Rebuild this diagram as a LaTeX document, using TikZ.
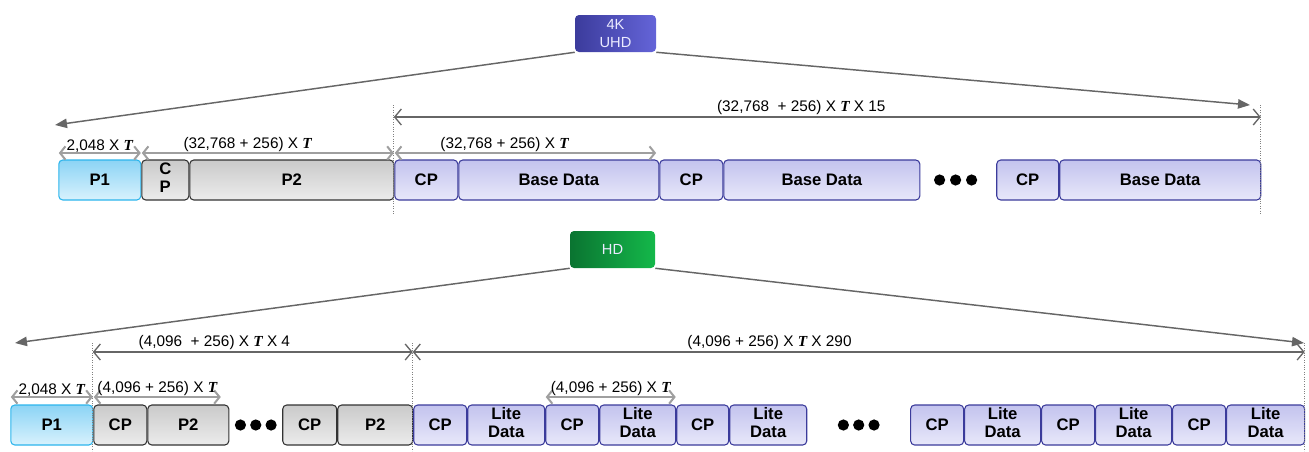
\documentclass[tikz,border=0pt]{standalone}
\usepackage{fontspec}
\setmainfont{Liberation Sans}
\newfontfamily\serifT{Liberation Serif}
\usepackage{xcolor}
\usepackage{tikz}
\usetikzlibrary{matrix,arrows.meta}

\definecolor{pOneTop}{HTML}{8CD4F5}
\definecolor{pOneBot}{HTML}{D8F2FD}
\definecolor{pOneLine}{HTML}{2CB5EC}
\definecolor{pTwoTop}{HTML}{CACACA}
\definecolor{pTwoBot}{HTML}{ECECEC}
\definecolor{pTwoLine}{HTML}{333333}
\definecolor{dataTop}{HTML}{C3C3EE}
\definecolor{dataBot}{HTML}{E8E8FA}
\definecolor{dataLine}{HTML}{3B3B9B}
\definecolor{uhdLeft}{HTML}{3C3C9C}
\definecolor{uhdRight}{HTML}{6464D8}
\definecolor{hdLeft}{HTML}{0A7431}
\definecolor{hdRight}{HTML}{14B84A}
\definecolor{arrowGray}{HTML}{666666}

\newcommand{\Tsym}{{\serifT\bfseries\itshape T}}
\newcommand{\twoline}[2]{\begin{tabular}{@{}c@{}}#1\\[1pt]#2\end{tabular}}

\tikzset{
 frame/.style={rounded corners=3pt, minimum height=30pt, inner sep=0pt, outer sep=0pt, line width=0.8pt, font=\fontsize{12.5}{13}\selectfont\bfseries},
 pone/.style={draw=pOneLine, top color=pOneTop, bottom color=pOneBot, minimum width=#1},
 ptwo/.style={draw=pTwoLine, top color=pTwoTop, bottom color=pTwoBot, minimum width=#1},
 pdata/.style={draw=dataLine, top color=dataTop, bottom color=dataBot, minimum width=#1},
 gapcell/.style={minimum width=#1},
 mode/.style={rounded corners=3pt, minimum width=#1, minimum height=27.75pt, inner sep=0pt, align=center, text=white!92!blue, font=\fontsize{11}{13}\selectfont},
 bigarrow/.style={draw=arrowGray, line width=1.1pt, -{Triangle[length=9pt,width=7pt]}},
 dimspan/.style={draw=arrowGray, line width=1pt, {Straight Barb[length=5pt,width=12pt]}-{Straight Barb[length=5pt,width=12pt]}},
 subspan/.style={draw=gray!75, line width=1.5pt, {Straight Barb[length=4pt,width=10pt]}-{Straight Barb[length=4pt,width=10pt]}},
 bound/.style={draw=gray, densely dotted, line width=0.8pt},
 lbl/.style={font=\fontsize{11.5}{12}\selectfont, inner sep=1pt}
}

\begin{document}
\begin{tikzpicture}[x=0.75pt, y=-0.75pt]
\useasboundingbox (0,0) rectangle (1309,451);

\node[mode=60.75pt, left color=uhdLeft, right color=uhdRight] (uhd) at (615.5,33.5) {4K\\UHD};
\matrix (A) [matrix of nodes, nodes={frame, anchor=center}, column sep=-0.05pt, inner sep=0pt, matrix anchor=west, nodes in empty cells] at (58,180) {
 |[pone=61.5pt]| P1 & |[ptwo=35.25pt]| \twoline{C}{P} & |[ptwo=153pt]| P2 & |[pdata=47.25pt]| CP & |[pdata=150pt]| Base Data & |[pdata=47.25pt]| CP & |[pdata=147pt]| Base Data & |[gapcell=57pt]| & |[pdata=46.5pt]| CP & |[pdata=150.75pt]| Base Data \\
};
\foreach \k in {-1,0,1} \fill ([xshift=\k*12pt-2pt]A-1-8.center) circle (4.2pt);

\coordinate (uhdL) at (55,125);
\coordinate (uhdR) at (1250,105);
\coordinate (lvlA) at (0,117);
\draw[bigarrow] (uhd.south west) -- (uhdL);
\draw[bigarrow] (uhd.south east) -- (uhdR);
\draw[bound] (A-1-3.east |- uhdR) -- ++(0,110);
\draw[bound] (A-1-10.east |- uhdR) -- ++(0,110);
\draw[dimspan] (A-1-3.east |- lvlA) -- node[lbl, above, pos=0.47] {(32,768\ \ + 256) X \Tsym{} X 15} (A-1-10.east |- lvlA);
\draw[subspan] ([yshift=5.25pt]A-1-1.north west) -- node[lbl, above=-1pt] {2,048 X \Tsym} ([yshift=5.25pt]A-1-1.north east);
\draw[subspan] ([yshift=5.25pt]A-1-2.north west) -- node[lbl, above=-1pt, pos=0.42] {(32,768 + 256) X \Tsym} ([yshift=5.25pt]A-1-3.north east);
\draw[subspan] ([yshift=5.25pt]A-1-4.north west) -- node[lbl, above=-1pt, pos=0.42] {(32,768 + 256) X \Tsym} ([yshift=5.25pt,xshift=-2pt]A-1-5.north east);

\node[mode=63.75pt, left color=hdLeft, right color=hdRight] (hd) at (612.5,249.5) {HD};
\matrix (B) [matrix of nodes, nodes={frame, anchor=center}, column sep=-0.05pt, inner sep=0pt, matrix anchor=west, nodes in empty cells] at (10,425) {
 |[pone=61.5pt]| P1 & |[ptwo=39.75pt]| CP & |[ptwo=60.75pt]| P2 & |[gapcell=39.75pt]| & |[ptwo=40.5pt]| CP & |[ptwo=56.25pt]| P2 & |[pdata=39.75pt]| CP & |[pdata=57.75pt]| \twoline{Lite}{Data} & |[pdata=39.75pt]| CP & |[pdata=57pt]| \twoline{Lite}{Data} & |[pdata=39pt]| CP & |[pdata=57.75pt]| \twoline{Lite}{Data} & |[gapcell=77.25pt]| & |[pdata=39.75pt]| CP & |[pdata=57pt]| \twoline{Lite}{Data} & |[pdata=39.75pt]| CP & |[pdata=57pt]| \twoline{Lite}{Data} & |[pdata=39.75pt]| CP & |[pdata=58.5pt]| \twoline{Lite}{Data} \\
};
\foreach \k in {-1,0,1} \fill ([xshift=\k*11.5pt]B-1-4.center) circle (4.2pt);
\foreach \k in {-1,0,1} \fill ([xshift=\k*11.5pt]B-1-13.center) circle (4.2pt);

\coordinate (hdL) at (15,343);
\coordinate (hdR) at (1304,343);
\coordinate (lvlB) at (0,352);
\draw[bigarrow] (hd.south west) -- (hdL);
\draw[bigarrow] (hd.south east) -- (hdR);
\draw[bound] (B-1-1.east |- hdR) -- ++(0,108);
\draw[bound] (B-1-6.east |- hdR) -- ++(0,108);
\draw[bound] (B-1-19.east |- hdR) -- ++(0,108);
\draw[dimspan] (B-1-1.east |- lvlB) -- node[lbl, above, pos=0.38] {(4,096\ \ + 256) X \Tsym{} X 4} (B-1-6.east |- lvlB);
\draw[dimspan] (B-1-6.east |- lvlB) -- node[lbl, above, pos=0.4] {(4,096 + 256) X \Tsym{} X 290} (B-1-19.east |- lvlB);
\draw[subspan] ([yshift=6pt]B-1-1.north west) -- node[lbl, above=-1pt] {2,048 X \Tsym} ([yshift=6pt]B-1-1.north east);
\draw[subspan] ([yshift=6pt]B-1-2.north west) -- node[lbl, above=-1pt] {(4,096 + 256) X \Tsym} ([yshift=6pt,xshift=-6pt]B-1-3.north east);
\draw[subspan] ([yshift=6pt]B-1-9.north west) -- node[lbl, above=-1pt] {(4,096 + 256) X \Tsym} ([yshift=6pt]B-1-10.north east);
\end{tikzpicture}
\end{document}
